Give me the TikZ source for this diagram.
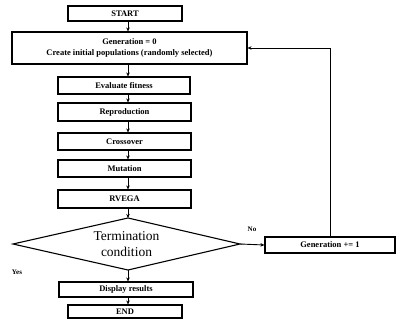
\documentclass[tikz,border=0pt]{standalone}
\usepackage{fontspec}
\setmainfont{Liberation Serif}
\usetikzlibrary{shapes.geometric,arrows.meta}
\begin{document}
\begin{tikzpicture}[x=1pt,y=-1pt,
 box/.style={draw, line width=1.1pt, inner sep=0pt, font=\fontsize{8.5}{10.5}\selectfont\bfseries, align=center},
 arr/.style={-{Stealth[length=4pt,width=3.5pt]}, line width=0.9pt},
 lbl/.style={font=\fontsize{7}{8}\selectfont\bfseries, inner sep=0pt}]
\useasboundingbox[fill=white] (0,0) rectangle (397,329);
\node[box, minimum width=114, minimum height=15] (start) at (125,13.5) {START};
\node[box, minimum width=235, minimum height=32] (gen) at (129.5,48) {Generation = 0\\Create initial populations (randomly selected)};
\node[box, minimum width=132, minimum height=17] (eval) at (124,85.5) {Evaluate fitness};
\node[box, minimum width=133, minimum height=18] (repr) at (124.5,112) {Reproduction};
\node[box, minimum width=133, minimum height=17] (cross) at (124.5,141.5) {Crossover};
\node[box, minimum width=133, minimum height=17] (mut) at (124.5,168.5) {Mutation};
\node[box, minimum width=133, minimum height=18] (rvega) at (124.5,199) {RVEGA};
\coordinate (dT) at (128,218);
\coordinate (dB) at (128,270);
\coordinate (dL) at (13,244);
\coordinate (dR) at (240,244);
\draw[line width=1.1pt, line join=miter] (dT) -- (dR) -- (dB) -- (dL) -- cycle;
\node[align=center, inner sep=0pt, font=\fontsize{13.5}{15.5}\selectfont] (term) at (126.5,244) {Termination\\condition};
\node[box, minimum width=130, minimum height=16] (genp) at (330,245) {Generation += 1};
\node[box, minimum width=134, minimum height=15] (disp) at (126,289.5) {Display results};
\node[box, minimum width=114, minimum height=13] (end) at (125,311.5) {END};
\coordinate (ax) at (128,0);
\draw[arr] (start.south -| ax) -- (gen.north -| ax);
\draw[arr] (gen.south -| ax) -- (eval.north -| ax);
\draw[arr] (eval.south -| ax) -- (repr.north -| ax);
\draw[arr] (repr.south -| ax) -- (cross.north -| ax);
\draw[arr] (cross.south -| ax) -- (mut.north -| ax);
\draw[arr] (mut.south -| ax) -- (rvega.north -| ax);
\draw[arr] (rvega.south -| ax) -- (dT);
\draw[arr] (dB) -- (disp.north -| dB);
\draw[arr] (disp.south -| ax) -- (end.north -| ax);
\draw[arr] (dR) -- (genp.west);
\draw[arr] (genp.north) |- (gen.east);
\node[lbl] (no) at (252,229) {No};
\node[lbl] (yes) at (17,272) {Yes};
\end{tikzpicture}
\end{document}
